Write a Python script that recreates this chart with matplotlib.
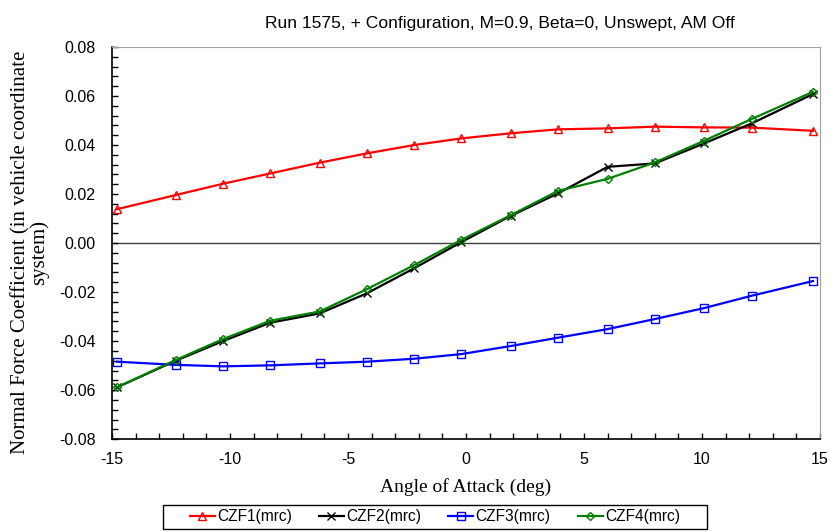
import numpy as np
import matplotlib.pyplot as plt
from matplotlib.patches import Rectangle
from matplotlib.ticker import MultipleLocator, FormatStrFormatter

plt.rcParams['axes.unicode_minus'] = False

# angle of attack (deg)
alpha = [-14.8, -12.3, -10.3, -8.3, -6.2, -4.2, -2.2, -0.2, 1.9, 3.9, 6.0, 8.0, 10.1, 12.1, 14.7]

czf1 = [0.0138, 0.0196, 0.0242, 0.0284, 0.0328, 0.0366, 0.0400, 0.0427,
        0.0448, 0.0464, 0.0468, 0.0475, 0.0472, 0.0471, 0.0458]
czf2 = [-0.0589, -0.0480, -0.0400, -0.0325, -0.0287, -0.0205, -0.0103, 0.0004,
        0.0111, 0.0203, 0.0311, 0.0325, 0.0407, 0.0488, 0.0608]
czf3 = [-0.0484, -0.0497, -0.0503, -0.0499, -0.0491, -0.0484, -0.0472, -0.0453,
        -0.0420, -0.0386, -0.0351, -0.0310, -0.0265, -0.0215, -0.0155]
czf4 = [-0.0589, -0.0477, -0.0392, -0.0317, -0.0279, -0.0188, -0.0090, 0.0013,
        0.0114, 0.0213, 0.0262, 0.0329, 0.0418, 0.0506, 0.0617]

fig = plt.figure(figsize=(8.3, 5.31), dpi=100)
ax = fig.add_axes([0.135, 0.173, 0.853, 0.7385])

sans = 'Liberation Sans'
serif = 'Liberation Serif'

ax.axhline(0, color='#404040', lw=1.0, zorder=1)

ax.plot(alpha, czf1, color='red', lw=1.6, marker='^', ms=6, mfc='none', mew=1, label='CZF1(mrc)')
ax.plot(alpha, czf2, color='black', lw=1.6, marker='x', ms=5.5, mew=1, label='CZF2(mrc)')
ax.plot(alpha, czf3, color='blue', lw=1.6, marker='s', ms=5.5, mfc='none', mew=1, label='CZF3(mrc)')
ax.plot(alpha, czf4, color='green', lw=1.6, marker='D', ms=4, mfc='none', mew=1, label='CZF4(mrc)')

ax.set_xlim(-15, 15)
ax.set_ylim(-0.08, 0.08)
ax.xaxis.set_major_locator(MultipleLocator(5))
ax.xaxis.set_minor_locator(MultipleLocator(1))
ax.yaxis.set_major_locator(MultipleLocator(0.02))
ax.yaxis.set_minor_locator(MultipleLocator(0.004))
ax.yaxis.set_major_formatter(FormatStrFormatter('%.2f'))
ax.tick_params(which='both', direction='in', length=4, width=1, labelsize=11.5)
ax.tick_params(axis='x', which='both', top=False, pad=9)
ax.tick_params(axis='y', which='both', right=False, pad=12)
for lab in ax.get_xticklabels() + ax.get_yticklabels():
    lab.set_family(sans)

ax.spines['top'].set_color('#a0a0a0')
ax.spines['right'].set_color('#a0a0a0')
ax.spines['left'].set_linewidth(1.2)
ax.spines['bottom'].set_linewidth(1.2)

ax.set_title('Run 1575, + Configuration, M=0.9, Beta=0, Unswept, AM Off',
             family=sans, fontsize=12.6, pad=14, x=0.548)
ax.set_xlabel('Angle of Attack (deg)', family=serif, fontsize=14, labelpad=8)
ax.set_ylabel('Normal Force Coefficient (in vehicle coordinate\nsystem)',
              family=serif, fontsize=15, linespacing=0.95)
ax.yaxis.set_label_coords(-0.089, 0.477)

# legend below the plot, box drawn separately (wider padding like the original)
leg = fig.legend(loc='center', bbox_to_anchor=(0.524, 0.0264), ncol=4,
                 prop={'family': sans, 'size': 11.2}, frameon=False,
                 handlelength=1.6, handletextpad=0.15, columnspacing=1.75,
                 borderpad=0.2)
fig.patches.append(Rectangle((163 / 830, 1 - 529 / 531), 544 / 830, 24 / 531,
                             transform=fig.transFigure, fill=False,
                             edgecolor='black', lw=1.0))

fig.savefig('out.png', dpi=100)
